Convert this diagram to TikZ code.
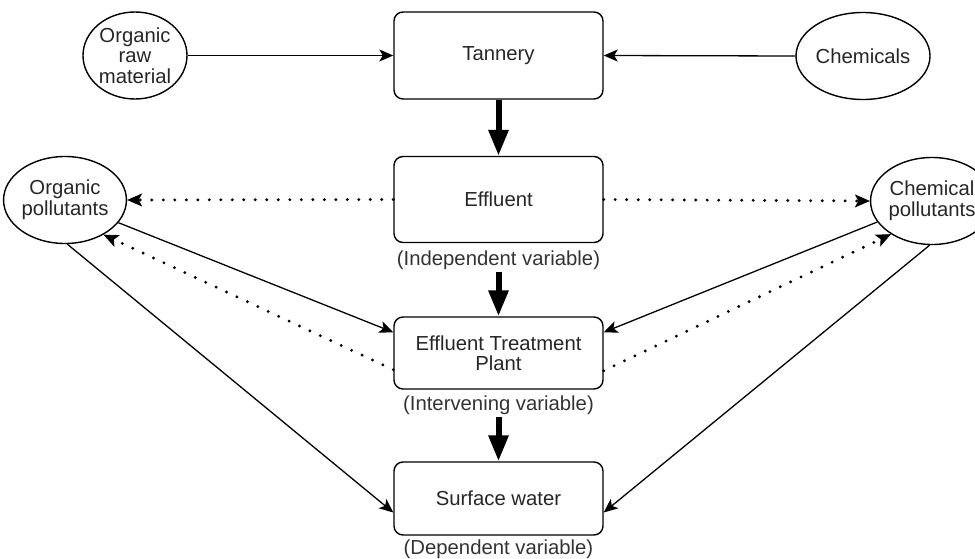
\documentclass[tikz,border=0pt]{standalone}
\usepackage{fontspec}
\setmainfont{Liberation Sans}
\usetikzlibrary{arrows.meta,shapes.geometric,calc}

\tikzset{
  stage/.style={draw, line width=1.4pt, rounded corners=9pt, minimum width=209pt,
    inner sep=0pt, align=center, text=black!85},
  source/.style={draw, ellipse, line width=1.4pt, minimum width=104pt, minimum height=87pt,
    inner sep=0pt, align=center, text=black!85},
  varlabel/.style={inner sep=2pt, text=black!80},
  flow/.style={line width=1.3pt, -{Stealth[length=14pt,width=12pt,inset=3.5pt]}},
  leak/.style={line width=3.2pt, dash pattern=on 0pt off 11.5pt, line cap=round,
    -{Stealth[length=15pt,width=13pt,inset=3.5pt,line width=0.8pt]}},
  mainflow/.style={line width=6pt, -{Triangle[length=26pt,width=19pt]}},
}

\begin{document}
\begin{tikzpicture}[x=1pt, y=-1pt, font=\fontsize{20.3}{20.5}\selectfont]
\useasboundingbox (0,0) rectangle (975,559);

% main chain
\node[stage, minimum height=87pt] (tan) at (498.5,55.5) {Tannery};
\node[stage, minimum height=86pt] (eff) at (498.5,199.5) {Effluent};
\node[stage, minimum height=72pt] (etp) at (498.5,353) {Effluent Treatment\\Plant};
\node[stage, minimum height=73pt] (sw)  at (498.5,498.5) {Surface water};

\node[varlabel] (indep) at (498.5,260) {(Independent variable)};
\node[varlabel] (inter) at (498.5,405) {(Intervening variable)};
\node[varlabel] (dep)   at (498.5,549) {(Dependent variable)};

% inputs and pollutant pools
\node[source] (raw)  at (135,55.5) {Organic\\raw\\material};
\node[source] (chem) at (863,56) {Chemicals};
\node[source] (opol) at (65,200) {Organic\\pollutants};
\node[source] (cpol) at (932,201) {Chemical\\pollutants};

% inputs to the tannery
\draw[flow] (raw.east) -- (tan.west);
\draw[flow] (chem.west) -- (tan.east);

% main process
\draw[mainflow] (tan.south) -- (eff.north);
\draw[mainflow] (indep.south) -- (etp.north);
\draw[mainflow] (inter.south) -- (sw.north);

% effluent releases
\draw[leak] (eff.west) -- (opol.east);
\draw[leak] (eff.east) -- (cpol.west);

% pollutants into treatment and back out
\draw[flow] (opol.-23) -- ($(etp.north west)+(0,16)$);
\draw[leak] ($(etp.south west)+(0,-20)$) -- (opol.-42);
\draw[flow] (cpol.-159) -- ($(etp.north east)+(0,16)$);
\draw[leak] ($(etp.south east)+(0,-19)$) -- (cpol.219);

% pollutants reaching surface water
\draw[flow] (opol.-87) -- ($(sw.west)+(0,14)$);
\draw[flow] (cpol.267) -- ($(sw.east)+(0,14)$);
\end{tikzpicture}
\end{document}
